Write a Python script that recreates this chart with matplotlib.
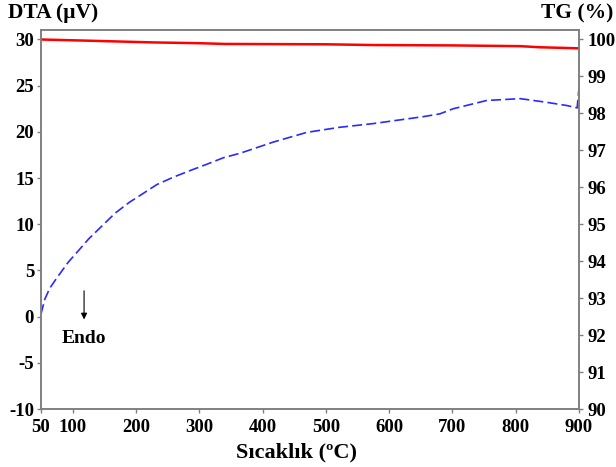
import numpy as np
import matplotlib
matplotlib.use('Agg')
from matplotlib import pyplot as plt

## Data
#
dta_temp = [50, 56, 64, 75, 93, 106, 125, 146, 167, 190, 206, 233, 259, 285, 312, 338, 365,
            417, 470, 522, 575, 617, 654, 680, 701, 754, 807, 849, 881, 897, 900]
dta_val = [0.3, 1.9, 3.1, 4.2, 5.9, 6.9, 8.4, 9.8, 11.2, 12.4, 13.1, 14.3, 15.1, 15.8, 16.5, 17.2, 17.7,
           18.9, 19.95, 20.5, 20.9, 21.3, 21.65, 21.95, 22.5, 23.4, 23.6, 23.2, 22.85, 22.6, 24.8]

tg_temp = [50, 120, 185, 230, 300, 340, 500, 575, 700, 807, 838, 881, 900]
tg_val = [100.0, 99.97, 99.94, 99.92, 99.90, 99.88, 99.87, 99.85, 99.84, 99.82, 99.79, 99.77, 99.76]

x_ticks = [50, 100, 200, 300, 400, 500, 600, 700, 800, 900]
dta_ticks = [-10, -5, 0, 5, 10, 15, 20, 25, 30]
tg_ticks = [90, 91, 92, 93, 94, 95, 96, 97, 98, 99, 100]

plt.rcParams['font.family'] = ['Liberation Serif', 'DejaVu Serif']
plt.rcParams['font.weight'] = 'bold'
plt.rcParams['axes.unicode_minus'] = False

fig = plt.figure(figsize=(6.16, 4.67), dpi=100)
ax1 = fig.add_axes([0.0666, 0.124, 0.8734, 0.812])
ax2 = ax1.twinx()

ax1.plot(dta_temp, dta_val, color='#2a2aff', linestyle=(0, (6, 2.5)), linewidth=1.2)
ax2.plot(tg_temp, tg_val, color='#ff0000', linewidth=1.8)

ax1.set_xlim(50, 900)
ax1.set_ylim(-10, 31.04)
ax2.set_ylim(90, 100.26)
ax1.set_xticks(x_ticks)
ax1.set_yticks(dta_ticks)
ax2.set_yticks(tg_ticks)

for ax in (ax1, ax2):
    for sp in ax.spines.values():
        sp.set_color('#808080')
        sp.set_linewidth(1.2)
    ax.tick_params(colors='#808080', labelcolor='black', labelsize=13.5,
                   length=3, width=1)
    for tl in ax.get_yticklabels() + ax.get_xticklabels():
        tl.set_fontweight('bold')
ax1.tick_params(axis='x', pad=4)
ax1.tick_params(axis='y', pad=2)
ax2.tick_params(axis='y', pad=3)

fig.text(0.013, 0.972, u'DTA (\u00b5V)', fontsize=15.5, fontweight='bold', va='center', ha='left')
fig.text(0.995, 0.972, 'TG (%)', fontsize=15.5, fontweight='bold', va='center', ha='right')
fig.text(0.482, 0.032, u'S\u0131cakl\u0131k (\u00baC)', fontsize=16, fontweight='bold',
         va='center', ha='center')

## Endo marker
#
ax1.annotate('', xy=(118, -0.6), xytext=(118, 3.1),
             arrowprops=dict(arrowstyle='-|>', color='black', lw=0.8, mutation_scale=9))
ax1.text(118, -2.4, 'Endo', fontsize=14, fontweight='bold', ha='center', va='center')

fig.savefig('out.png', dpi=100)
